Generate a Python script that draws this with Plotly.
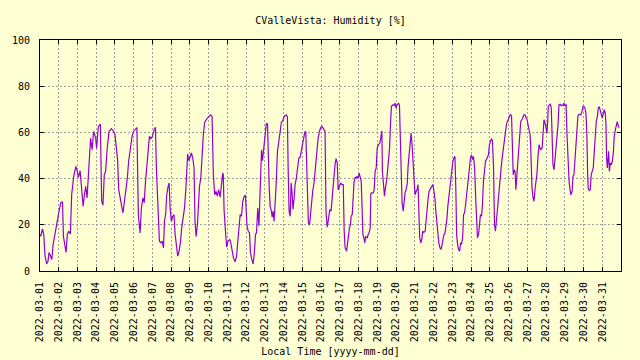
import pandas as pd
import plotly.graph_objects as go

# Time in days after 2022-03-01 00:00 and relative humidity (%)
day_offset = [
    0.00, 0.04, 0.13, 0.20, 0.27, 0.36, 0.43, 0.48, 0.56, 0.63, 0.70, 0.77, 0.84, 0.93,
    1.02, 1.11, 1.20, 1.25, 1.34, 1.39, 1.46, 1.53, 1.62, 1.69, 1.80, 1.91, 1.98,
    2.05, 2.14, 2.21, 2.30, 2.37, 2.44, 2.51, 2.56, 2.62, 2.70, 2.78, 2.86, 2.97,
    3.02, 3.11, 3.22, 3.29, 3.36, 3.43, 3.50, 3.58, 3.68, 3.81, 3.93,
    4.00, 4.07, 4.14, 4.20, 4.27, 4.36, 4.43, 4.50, 4.57, 4.66, 4.73, 4.80, 4.91, 4.99,
    5.10, 5.17, 5.20, 5.25, 5.34, 5.41, 5.49, 5.56, 5.63, 5.70, 5.77, 5.84, 5.91,
    6.00, 6.09, 6.16, 6.21, 6.27, 6.32, 6.37, 6.45, 6.52, 6.59, 6.64, 6.71, 6.76, 6.84, 6.89, 6.94,
    7.01, 7.08, 7.15, 7.21, 7.28, 7.35, 7.42, 7.49, 7.56, 7.63, 7.71, 7.78, 7.83, 7.88, 7.94,
    8.01, 8.08, 8.15, 8.22, 8.27, 8.33, 8.40, 8.45, 8.51, 8.58, 8.65, 8.72, 8.79, 8.86, 8.93,
    9.02, 9.11, 9.18, 9.21, 9.25, 9.32, 9.39, 9.46, 9.53, 9.61, 9.68, 9.75, 9.78, 9.82, 9.89, 9.96,
    10.03, 10.12, 10.17, 10.24, 10.32, 10.41, 10.49, 10.54, 10.61, 10.68, 10.75, 10.82, 10.90, 10.96,
    11.04, 11.11, 11.18, 11.23, 11.30, 11.37, 11.43, 11.50, 11.55, 11.62, 11.68, 11.73, 11.76, 11.82, 11.87, 11.92, 11.98,
    12.03, 12.08, 12.14, 12.17, 12.23, 12.28, 12.33, 12.39, 12.44, 12.49, 12.55, 12.60, 12.67, 12.74, 12.81, 12.88, 12.95,
    13.03, 13.13, 13.20, 13.24, 13.29, 13.35, 13.40, 13.45, 13.50, 13.56, 13.61, 13.68, 13.75, 13.81, 13.88, 13.93,
    14.00, 14.06, 14.13, 14.18, 14.22, 14.27, 14.32, 14.38, 14.43, 14.48, 14.55, 14.62, 14.69, 14.77, 14.84, 14.91, 14.98,
    15.05, 15.14, 15.21, 15.26, 15.32, 15.39, 15.46, 15.53, 15.60, 15.65, 15.70, 15.75, 15.80, 15.86, 15.91, 15.96,
    16.04, 16.11, 16.18, 16.23, 16.28, 16.36, 16.41, 16.46, 16.51, 16.57, 16.60, 16.66, 16.71, 16.76, 16.82, 16.87, 16.92, 16.98,
    17.03, 17.08, 17.14, 17.17, 17.23, 17.28, 17.33, 17.38, 17.46, 17.51, 17.56, 17.62, 17.65, 17.70, 17.78, 17.83, 17.88, 17.94, 17.99,
    18.06, 18.13, 18.18, 18.24, 18.27, 18.33, 18.38, 18.43, 18.49, 18.54, 18.59, 18.65, 18.70, 18.75, 18.81, 18.88, 18.95,
    19.00, 19.05, 19.13, 19.18, 19.22, 19.27, 19.32, 19.38, 19.43, 19.48, 19.53, 19.59, 19.64, 19.69, 19.75, 19.80, 19.85, 19.91, 19.96,
    20.01, 20.07, 20.12, 20.17, 20.21, 20.26, 20.32, 20.37, 20.42, 20.48, 20.55, 20.60, 20.65, 20.71, 20.76, 20.83, 20.86, 20.91, 20.96,
    21.02, 21.07, 21.12, 21.18, 21.23, 21.28, 21.34, 21.39, 21.44, 21.50, 21.55, 21.60, 21.66, 21.71, 21.76, 21.82, 21.87, 21.92, 21.98,
    22.03, 22.08, 22.14, 22.19, 22.23, 22.28, 22.33, 22.39, 22.44, 22.49, 22.55, 22.60, 22.65, 22.71, 22.76, 22.81, 22.87, 22.92, 22.97,
    23.02, 23.08, 23.13, 23.19, 23.24, 23.29, 23.34, 23.40, 23.45, 23.50, 23.56, 23.61, 23.66, 23.72, 23.77, 23.82, 23.88, 23.93, 23.98,
    24.04, 24.09, 24.14, 24.20, 24.25, 24.30, 24.36, 24.41, 24.46, 24.52, 24.57, 24.62, 24.68, 24.73, 24.78, 24.84, 24.89, 24.94,
    25.00, 25.05, 25.10, 25.16, 25.21, 25.25, 25.30, 25.35, 25.39, 25.44, 25.49, 25.55, 25.60, 25.65, 25.71, 25.76, 25.81, 25.88, 25.94, 25.99,
    26.04, 26.09, 26.15, 26.18, 26.22, 26.25, 26.31, 26.36, 26.41, 26.47, 26.52, 26.57, 26.63, 26.68, 26.73, 26.79, 26.84, 26.89, 26.95,
    27.00, 27.05, 27.09, 27.12, 27.18, 27.23, 27.28, 27.32, 27.37, 27.43, 27.48, 27.53, 27.59, 27.64, 27.69, 27.75, 27.80, 27.85, 27.91, 27.96,
    28.01, 28.07, 28.12, 28.17, 28.23, 28.28, 28.33, 28.39, 28.44, 28.49, 28.54, 28.60, 28.65, 28.70, 28.76, 28.81, 28.86, 28.92, 28.97,
    29.02, 29.08, 29.13, 29.18, 29.22, 29.25, 29.31, 29.36, 29.41, 29.47, 29.52, 29.58, 29.63, 29.68, 29.74, 29.79, 29.84, 29.90, 29.95,
    30.00, 30.06, 30.11, 30.16, 30.20, 30.23, 30.27, 30.31, 30.34, 30.38, 30.43, 30.48, 30.54, 30.59, 30.64, 30.70, 30.75, 30.80, 30.86, 30.91,
]

humidity = [
    15.8, 15.0, 18.2, 15.8, 6.5, 3.1, 4.3, 8.0, 6.5, 5.0, 11.5, 15.0, 18.7, 23.0,
    26.0, 29.5, 30.0, 15.0, 10.8, 8.0, 15.8, 17.2, 16.0, 33.0, 41.0, 45.3, 43.4,
    40.5, 43.4, 36.7, 28.0, 33.0, 36.7, 31.6, 38.8, 45.3, 57.5, 52.5, 60.4, 57.5,
    53.2, 62.6, 63.6, 30.2, 28.5, 41.7, 43.1, 52.5, 60.4, 61.6, 60.4,
    59.0, 53.2, 48.2, 35.2, 31.0, 28.0, 25.2, 29.5, 34.5, 40.3, 47.5, 52.5, 58.2, 60.4,
    61.6, 62.1, 47.5, 23.7, 16.5, 27.3, 31.6, 29.5, 38.8, 44.6, 51.8, 58.3, 57.3,
    58.3, 61.2, 62.2, 44.6, 30.2, 19.0, 12.9, 12.2, 12.9, 10.0, 21.5, 25.1, 33.0, 36.7, 38.1, 27.3,
    21.5, 23.7, 24.4, 15.8, 10.0, 6.4, 8.6, 12.2, 18.7, 22.3, 27.3, 35.2, 45.3, 50.6, 47.8,
    49.6, 51.1, 48.9, 44.6, 21.5, 15.0, 20.1, 27.3, 36.7, 40.3, 50.3, 59.7, 64.4, 65.5, 66.2,
    66.9, 67.6, 66.9, 58.0, 41.7, 33.0, 34.5, 32.4, 35.2, 32.0, 37.4, 42.4, 41.7, 26.6, 17.9, 10.3,
    12.9, 13.6, 12.6, 8.6, 5.7, 4.0, 6.4, 11.5, 18.7, 24.4, 23.7, 30.2, 32.4, 32.8,
    20.1, 17.2, 16.5, 7.9, 5.0, 3.1, 7.2, 15.8, 16.5, 27.3, 19.4, 33.0, 45.3, 52.5, 47.8, 52.5, 56.1,
    61.1, 64.0, 63.6, 51.8, 36.0, 28.0, 26.6, 23.3, 25.9, 21.5, 28.0, 37.4, 51.8, 56.1, 61.1, 64.4, 65.0,
    66.9, 67.6, 66.9, 44.6, 25.9, 23.7, 38.1, 33.8, 26.6, 31.6, 37.4, 40.3, 45.3, 48.9, 49.2, 51.1,
    54.7, 56.1, 60.1, 60.4, 45.3, 27.3, 20.8, 19.8, 24.4, 26.6, 34.5, 38.1, 44.6, 52.5, 57.5, 60.4, 62.2,
    62.6, 61.6, 60.4, 25.9, 19.0, 22.3, 26.6, 25.9, 33.0, 37.4, 43.1, 46.7, 48.6, 46.7, 35.2, 36.7,
    38.1, 37.4, 37.4, 17.2, 10.0, 8.6, 12.9, 15.0, 18.7, 20.1, 23.7, 24.4, 31.6, 38.8, 40.5, 40.2, 41.0, 40.2,
    42.4, 41.0, 38.8, 30.9, 15.8, 14.4, 12.2, 15.0, 14.4, 15.8, 16.5, 18.7, 33.4, 33.8, 33.8, 35.2, 43.1, 44.6, 53.2,
    54.7, 55.4, 57.5, 60.7, 43.1, 38.1, 32.4, 36.0, 38.8, 43.1, 47.5, 53.2, 63.3, 71.2, 71.9, 71.6, 72.7,
    70.5, 71.9, 72.7, 71.6, 56.1, 36.0, 29.5, 25.9, 30.2, 33.8, 35.2, 37.4, 45.3, 51.1, 57.5, 59.7, 54.7, 46.7, 35.2,
    33.0, 34.5, 35.2, 37.4, 23.0, 14.4, 12.2, 13.6, 17.2, 16.7, 17.2, 22.3, 28.8, 31.6, 34.5, 35.2, 36.0, 36.7, 37.4,
    34.5, 31.6, 25.9, 20.1, 15.8, 12.2, 10.0, 9.3, 10.8, 12.9, 15.8, 16.1, 19.8, 22.3, 28.0, 32.4, 36.0, 40.3, 43.1,
    47.5, 48.9, 49.6, 34.5, 15.8, 11.5, 9.3, 8.6, 12.2, 11.5, 14.4, 24.4, 25.1, 28.8, 33.0, 38.1, 40.3, 44.6, 48.9,
    50.3, 48.2, 49.6, 44.6, 33.0, 21.5, 14.4, 15.8, 22.3, 24.4, 23.7, 28.8, 38.8, 43.8, 47.5, 48.2, 49.6, 50.3, 54.7,
    56.4, 57.3, 56.4, 44.6, 20.1, 17.2, 22.3, 27.3, 33.0, 38.8, 41.7, 46.0, 50.3, 54.0, 57.5, 59.7, 63.6, 64.7,
    66.2, 66.9, 67.9, 66.9, 54.7, 41.7, 43.8, 43.1, 35.2, 41.7, 44.6, 55.4, 60.4, 64.7, 65.5, 66.2, 67.6, 67.6, 66.2, 65.5,
    63.3, 60.4, 59.0, 54.7, 44.6, 36.0, 31.6, 30.2, 35.2, 38.8, 42.4, 49.6, 54.7, 53.2, 52.5, 53.2, 59.0, 65.5, 64.0,
    61.9, 59.7, 64.7, 71.2, 71.9, 72.2, 70.5, 54.7, 46.0, 43.8, 48.9, 51.8, 56.8, 63.3, 71.9, 72.2, 71.6, 71.9, 71.6, 72.7,
    71.6, 71.9, 59.0, 44.6, 38.8, 35.2, 33.0, 34.5, 41.0, 41.7, 48.2, 55.4, 63.3, 66.9, 67.9, 67.9, 67.6, 69.1, 71.2,
    71.2, 70.5, 68.3, 59.0, 41.7, 35.7, 34.8, 35.2, 41.7, 43.8, 44.6, 52.5, 59.7, 64.7, 66.9, 70.5, 71.2, 69.1, 67.6,
    66.2, 68.3, 69.8, 68.3, 63.3, 48.9, 44.6, 48.9, 51.8, 43.1, 46.7, 46.0, 47.5, 51.1, 58.3, 61.2, 64.0, 64.7, 62.6, 62.1,
]

tick_dates = pd.date_range("2022-03-01", "2022-03-31", freq="D")
y_ticks = [0, 20, 40, 60, 80, 100]

start = pd.Timestamp("2022-03-01 00:00")
times = start + pd.to_timedelta(day_offset, unit="D")

bg = "#ffffd4"
grid = "#a0a0a0"
font = dict(family="DejaVu Sans Mono", size=10, color="black")

fig = go.Figure(
    go.Scatter(x=times, y=humidity, mode="lines",
               line=dict(color="#9400d3", width=1.2), hoverinfo="skip")
)

fig.update_layout(
    width=640, height=360,
    margin=dict(l=40, r=19, t=40, b=89, autoexpand=False),
    paper_bgcolor=bg, plot_bgcolor=bg,
    font=font, showlegend=False,
    title=dict(text="CValleVista: Humidity [%]", xref="paper", x=0.5, xanchor="center",
               yref="container", y=1 - 20 / 360, yanchor="middle", font=font),
)

fig.update_xaxes(
    type="date", range=["2022-03-01", "2022-04-01"],
    tickvals=tick_dates, tickformat="%Y-%m-%d", tickangle=-90,
    ticks="inside", ticklen=4, tickcolor="black", tickwidth=1,
    showline=True, linecolor="black", linewidth=1, mirror="ticks",
    showgrid=True, gridcolor=grid, griddash="2px,2px", gridwidth=1,
    zeroline=False, ticklabelstandoff=6,
    title=dict(text="Local Time [yyyy-mm-dd]", standoff=6, font=font),
)

fig.update_yaxes(
    range=[0, 100], tickvals=y_ticks,
    ticks="inside", ticklen=4, tickcolor="black", tickwidth=1,
    showline=True, linecolor="black", linewidth=1, mirror="ticks",
    showgrid=True, gridcolor=grid, griddash="2px,2px", gridwidth=1,
    zeroline=False, ticklabelstandoff=7,
)

fig.write_html(
    "out.html",
    config={"displayModeBar": False, "staticPlot": True},
    post_script="document.body.style.margin='0';document.body.style.background='" + bg + "';",
)
